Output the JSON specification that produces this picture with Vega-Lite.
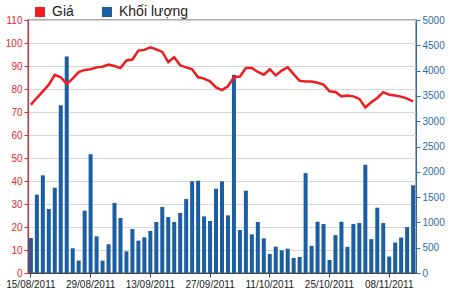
{
  "$schema": "https://vega.github.io/schema/vega-lite/v6.json",
  "autosize": {"type": "none"},
  "padding": {"left": 28, "top": 20, "right": 34, "bottom": 18},
  "width": 388,
  "height": 253,
  "background": "white",
  "config": {
    "view": {"stroke": "#8a8a8a", "strokeWidth": 1.5},
    "font": "Liberation Sans",
    "axis": {"labelFont": "Liberation Sans", "labelFontSize": 10}
  },
  "data": {"values": [
    {"d": "15/08/2011", "p": 73.2, "v": 691},
    {"d": "16/08/2011", "p": 76.1, "v": 1549},
    {"d": "17/08/2011", "p": 79.0, "v": 1930},
    {"d": "18/08/2011", "p": 81.9, "v": 1264},
    {"d": "19/08/2011", "p": 86.2, "v": 1686},
    {"d": "22/08/2011", "p": 85.1, "v": 3313},
    {"d": "23/08/2011", "p": 82.2, "v": 4280},
    {"d": "24/08/2011", "p": 84.5, "v": 488},
    {"d": "25/08/2011", "p": 87.4, "v": 245},
    {"d": "26/08/2011", "p": 88.3, "v": 1232},
    {"d": "29/08/2011", "p": 88.6, "v": 2345},
    {"d": "30/08/2011", "p": 89.4, "v": 724},
    {"d": "31/08/2011", "p": 89.7, "v": 245},
    {"d": "01/09/2011", "p": 90.6, "v": 568},
    {"d": "05/09/2011", "p": 90.0, "v": 1383},
    {"d": "06/09/2011", "p": 89.1, "v": 1087},
    {"d": "07/09/2011", "p": 92.4, "v": 428},
    {"d": "08/09/2011", "p": 92.8, "v": 870},
    {"d": "09/09/2011", "p": 96.7, "v": 640},
    {"d": "12/09/2011", "p": 97.0, "v": 705},
    {"d": "13/09/2011", "p": 98.1, "v": 831},
    {"d": "14/09/2011", "p": 97.2, "v": 1008},
    {"d": "15/09/2011", "p": 96.1, "v": 1304},
    {"d": "16/09/2011", "p": 91.7, "v": 1106},
    {"d": "19/09/2011", "p": 93.8, "v": 1008},
    {"d": "20/09/2011", "p": 90.3, "v": 1186},
    {"d": "21/09/2011", "p": 89.4, "v": 1462},
    {"d": "22/09/2011", "p": 88.6, "v": 1812},
    {"d": "23/09/2011", "p": 85.1, "v": 1824},
    {"d": "26/09/2011", "p": 84.5, "v": 1119},
    {"d": "27/09/2011", "p": 83.3, "v": 1028},
    {"d": "28/09/2011", "p": 80.7, "v": 1667},
    {"d": "29/09/2011", "p": 79.5, "v": 1812},
    {"d": "30/09/2011", "p": 81.2, "v": 1139},
    {"d": "03/10/2011", "p": 85.1, "v": 3919},
    {"d": "04/10/2011", "p": 85.4, "v": 850},
    {"d": "05/10/2011", "p": 89.1, "v": 1627},
    {"d": "06/10/2011", "p": 89.1, "v": 764},
    {"d": "07/10/2011", "p": 87.4, "v": 1008},
    {"d": "10/10/2011", "p": 86.2, "v": 685},
    {"d": "11/10/2011", "p": 88.6, "v": 376},
    {"d": "12/10/2011", "p": 85.9, "v": 520},
    {"d": "13/10/2011", "p": 88.0, "v": 448},
    {"d": "14/10/2011", "p": 89.4, "v": 481},
    {"d": "17/10/2011", "p": 86.5, "v": 297},
    {"d": "18/10/2011", "p": 83.6, "v": 318},
    {"d": "19/10/2011", "p": 83.3, "v": 1974},
    {"d": "20/10/2011", "p": 83.3, "v": 536},
    {"d": "21/10/2011", "p": 82.7, "v": 1013},
    {"d": "24/10/2011", "p": 81.9, "v": 967},
    {"d": "25/10/2011", "p": 79.0, "v": 258},
    {"d": "26/10/2011", "p": 78.7, "v": 748},
    {"d": "27/10/2011", "p": 76.8, "v": 1013},
    {"d": "28/10/2011", "p": 77.2, "v": 517},
    {"d": "31/10/2011", "p": 76.8, "v": 967},
    {"d": "01/11/2011", "p": 75.7, "v": 987},
    {"d": "02/11/2011", "p": 72.0, "v": 2139},
    {"d": "03/11/2011", "p": 74.2, "v": 669},
    {"d": "04/11/2011", "p": 76.1, "v": 1291},
    {"d": "07/11/2011", "p": 78.6, "v": 987},
    {"d": "08/11/2011", "p": 77.5, "v": 325},
    {"d": "09/11/2011", "p": 77.2, "v": 603},
    {"d": "10/11/2011", "p": 76.7, "v": 702},
    {"d": "11/11/2011", "p": 75.8, "v": 907},
    {"d": "14/11/2011", "p": 74.6, "v": 1735}
  ]},
  "encoding": {
    "x": {
      "field": "d", "type": "ordinal", "sort": null,
      "scale": {"paddingInner": 0.33, "paddingOuter": 0.15},
      "axis": {
        "title": null, "labelAngle": 0,
        "values": ["15/08/2011", "29/08/2011", "13/09/2011", "27/09/2011", "11/10/2011", "25/10/2011", "08/11/2011"],
        "labelColor": "#222222", "labelFontSize": 10,
        "domainColor": "#444444", "tickColor": "#444444", "tickSize": 4,
        "labelPadding": 2, "grid": false
      }
    }
  },
  "layer": [
    {
      "mark": {"type": "bar", "color": "#1b5ea3"},
      "encoding": {
        "y": {
          "field": "v", "type": "quantitative",
          "scale": {"domain": [0, 5000], "nice": false},
          "axis": {
            "orient": "right", "title": null, "grid": false, "format": "d",
            "values": [0, 500, 1000, 1500, 2000, 2500, 3000, 3500, 4000, 4500, 5000],
            "labelColor": "#2c6ca6", "domainColor": "#2c6ca6", "tickColor": "#2c6ca6",
            "tickSize": 4, "labelPadding": 2, "labelFontSize": 10
          }
        },
        "color": {
          "datum": "Khối lượng",
          "scale": {"domain": ["Giá", "Khối lượng"], "range": ["#ee1c1c", "#1b5ea3"]},
          "legend": {
            "title": null, "orient": "none", "direction": "horizontal",
            "legendX": 5, "legendY": -15, "padding": 0,
            "symbolType": "square", "symbolSize": 100, "symbolStrokeWidth": 0,
            "labelFontSize": 14, "labelColor": "#222222", "labelOffset": 5,
            "columnPadding": 26, "labelFont": "Liberation Sans"
          }
        }
      }
    },
    {
      "mark": {"type": "line", "color": "#ee1c1c", "strokeWidth": 2.5},
      "encoding": {
        "y": {
          "field": "p", "type": "quantitative",
          "scale": {"domain": [0, 110], "nice": false},
          "axis": {
            "orient": "left", "title": null, "grid": true, "gridColor": "#d6d6d6",
            "values": [0, 10, 20, 30, 40, 50, 60, 70, 80, 90, 100, 110],
            "labelColor": "#e8262c", "domainColor": "#e8262c", "tickColor": "#e8262c",
            "tickSize": 4, "labelPadding": 2, "labelFontSize": 10
          }
        }
      }
    }
  ],
  "resolve": {"scale": {"y": "independent"}}
}
